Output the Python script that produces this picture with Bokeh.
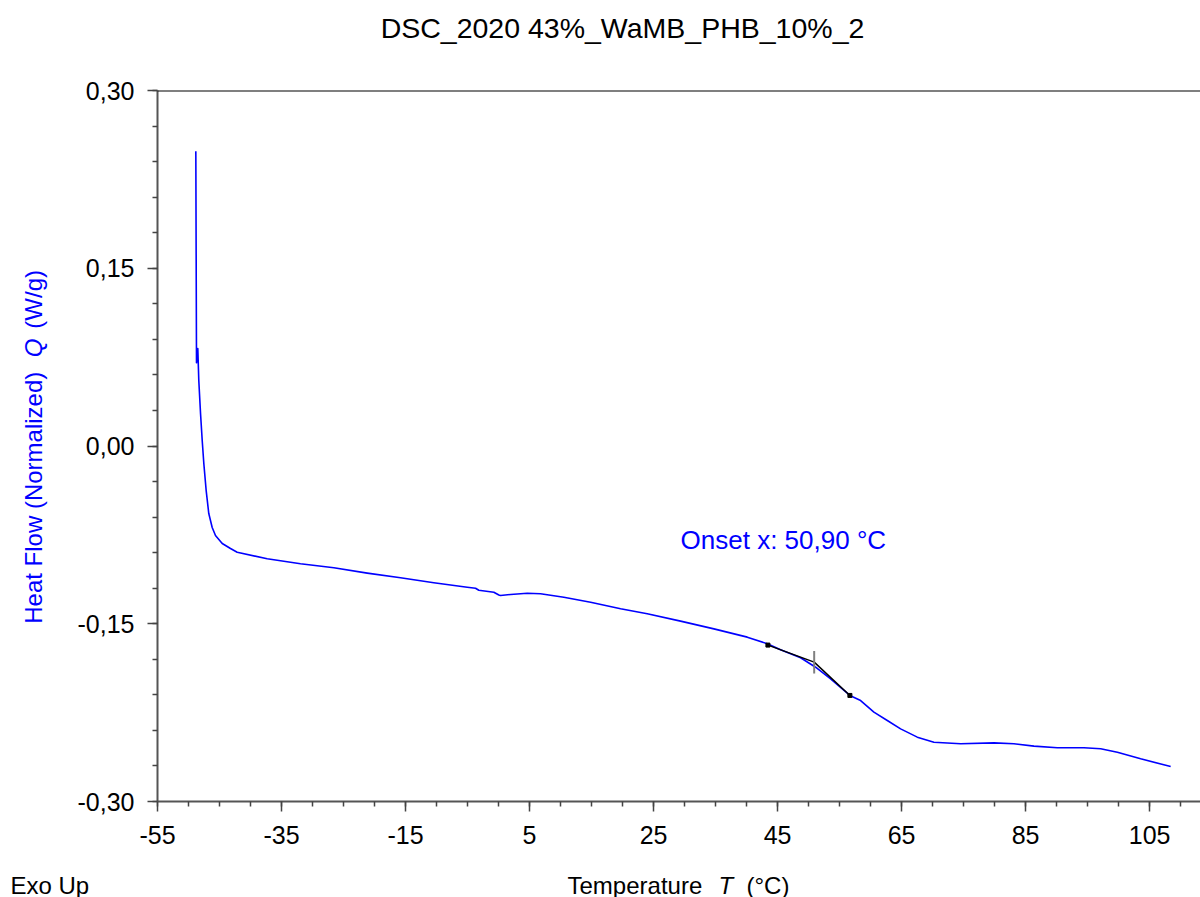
from bokeh.plotting import figure
from bokeh.layouts import column, row
from bokeh.models import (Range1d, FixedTicker, CustomJSTickFormatter, Label, Span)
from bokeh.embed import file_html
from bokeh.resources import INLINE
import math

# ---- data ----
temperature = [-48.82, -48.71, -48.50, -48.34, -48.06, -47.79, -47.53, -47.15, -46.73,
               -46.18, -45.65, -44.56, -43.23, -42.15, -37.31, -31.94, -26.56, -21.18,
               -15.81, -10.44, -5.05, -3.71, -3.18, -0.76, 0.05, 0.32, 1.94, 4.63, 6.77,
               10.53, 14.84, 19.68, 23.98, 29.35, 34.73, 40.11, 43.34, 45.48, 48.71,
               51.13, 53.55, 56.66, 58.39, 60.53, 62.69, 64.84, 67.53, 70.21, 74.52,
               79.89, 83.11, 86.34, 90.11, 94.40, 97.10, 99.79, 103.55, 108.39]
heat_flow = [0.2488, 0.0702, 0.0823, 0.0553, 0.0274, 0.0046, -0.0148, -0.0376, -0.0570,
             -0.0688, -0.0755, -0.0823, -0.0865, -0.0896, -0.0952, -0.0994, -0.1028, -0.1073,
             -0.1112, -0.1154, -0.1192, -0.1200, -0.1217, -0.1234, -0.1257, -0.1262, -0.1253,
             -0.1242, -0.1247, -0.1276, -0.1318, -0.1374, -0.1416, -0.1478, -0.1543, -0.1613,
             -0.1669, -0.1720, -0.1787, -0.1867, -0.1965, -0.2105, -0.2148, -0.2246, -0.2316,
             -0.2387, -0.2457, -0.2500, -0.2513, -0.2505, -0.2513, -0.2533, -0.2547, -0.2547,
             -0.2555, -0.2584, -0.2640, -0.2705]

# onset tangent construction
tangent_x = [43.44, 50.90, 56.66]
tangent_y = [-0.168, -0.1824, -0.2105]
onset_x = 50.90
onset_mark_y = [-0.173, -0.192]
onset_text = "Onset x: 50,90 \u00b0C"

x_ticks = [-55, -35, -15, 5, 25, 45, 65, 85, 105]
x_minor = list(range(-55, 115, 5))
y_ticks = [-0.30, -0.15, 0.0, 0.15, 0.30]
y_minor = [round(-0.30 + 0.03 * i, 2) for i in range(21)]

x_start, x_end = -55, 113.2
y_start, y_end = -0.30, 0.30

title_text = "DSC_2020 43%_WaMB_PHB_10%_2"
ylabel_parts = ["Heat Flow (Normalized)", "Q", "(W/g)"]
xlabel_parts = ["Temperature", "T", "(\u00b0C)"]
corner_text = "Exo Up"

FONT = "Liberation Sans"
BLUE = "#0000FF"


def text_strip(w, h):
    """A bare figure whose frame fills its canvas, in pixel units, to hold texts."""
    f = figure(width=w, height=h, output_backend="svg", toolbar_location=None,
               x_range=Range1d(0, w), y_range=Range1d(0, h),
               x_axis_location=None, y_axis_location=None,
               min_border=0, min_border_left=0, min_border_right=0,
               min_border_top=0, min_border_bottom=0)
    f.outline_line_color = None
    f.grid.visible = False
    return f


# ---- main plot ----
p = figure(width=1140, height=800, output_backend="svg", toolbar_location=None,
           x_range=Range1d(x_start, x_end), y_range=Range1d(y_start, y_end),
           min_border_left=97, min_border_right=0, min_border_top=30, min_border_bottom=59)
p.outline_line_color = None
p.grid.visible = False

for ax in (p.xaxis[0], p.yaxis[0]):
    ax.axis_line_color = "#555555"
    ax.axis_line_width = 2
    ax.major_tick_line_color = "#444444"
    ax.major_tick_line_width = 1.5
    ax.minor_tick_line_color = "#444444"
    ax.minor_tick_line_width = 1.5
    ax.major_tick_out = 10
    ax.major_tick_in = 0
    ax.minor_tick_out = 5
    ax.minor_tick_in = 0
    ax.major_label_text_font = FONT
    ax.major_label_text_font_size = "25px"
    ax.major_label_text_color = "black"

p.xaxis[0].ticker = FixedTicker(ticks=x_ticks, minor_ticks=x_minor)
p.yaxis[0].ticker = FixedTicker(ticks=y_ticks, minor_ticks=y_minor)
p.xaxis[0].major_label_standoff = 14
p.yaxis[0].major_label_standoff = 13
p.xaxis[0].formatter = CustomJSTickFormatter(code="return String(Math.round(tick));")
p.yaxis[0].formatter = CustomJSTickFormatter(code="""
    var s = Math.abs(tick) < 1e-9 ? (0).toFixed(2) : tick.toFixed(2);
    return s.replace('.', ',');
""")

p.add_layout(Span(location=y_end, dimension="width", line_color="black", line_width=2))

p.line(temperature, heat_flow, line_color=BLUE, line_width=1.6, line_join="round")

p.line(tangent_x, tangent_y, line_color="black", line_width=1.5)
p.scatter([tangent_x[0], tangent_x[-1]], [tangent_y[0], tangent_y[-1]], marker="square",
          size=4, color="black")
p.line([onset_x, onset_x], onset_mark_y, line_color="#808080", line_width=2)

p.add_layout(Label(x=29.35, y=-0.0797, text=onset_text, text_font=FONT,
                   text_font_size="26px", text_color=BLUE, text_baseline="middle"))

# ---- title strip ----
top = text_strip(1200, 60)
top.add_layout(Label(x=622, y=33, text=title_text, text_font=FONT, text_font_size="28.5px",
                     text_align="center", text_baseline="alphabetic", text_color="black"))

# ---- y label strip (text reads bottom-to-top) ----
left = text_strip(60, 800)
for txt, yy, style in zip(ylabel_parts, [200, 500, 532], ["normal", "italic", "normal"]):
    left.add_layout(Label(x=33, y=yy, angle=math.pi / 2, text=txt, text_font=FONT,
                          text_font_size="24px", text_font_style=style, text_color=BLUE,
                          text_align="left", text_baseline="middle"))

# ---- bottom strip ----
bottom = text_strip(1200, 37)
for txt, xx, style in zip(xlabel_parts, [567, 718, 746], ["normal", "italic", "normal"]):
    bottom.add_layout(Label(x=xx, y=12, text=txt, text_font=FONT, text_font_size="24px",
                            text_font_style=style, text_color="black",
                            text_align="left", text_baseline="middle"))
bottom.add_layout(Label(x=10, y=12, text=corner_text, text_font=FONT, text_font_size="24px",
                        text_color="black", text_align="left", text_baseline="middle"))

layout = column(top, row(left, p), bottom)

open("out.html", "w").write(file_html(layout, INLINE))
